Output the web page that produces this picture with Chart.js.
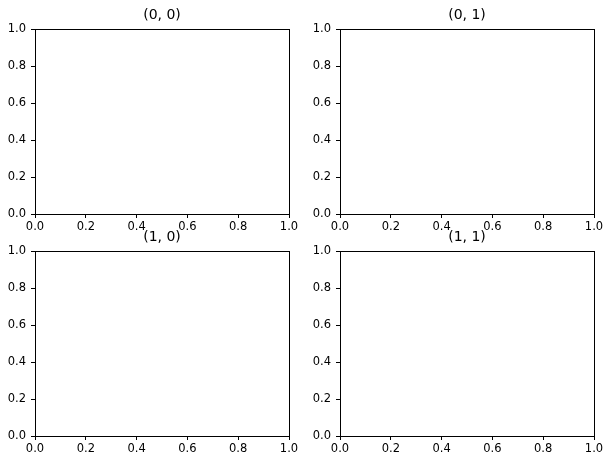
<!DOCTYPE html>
<html>
<head>
<meta charset="utf-8">
<script src="https://cdn.jsdelivr.net/npm/chart.js@4.4.1/dist/chart.umd.min.js"></script>
<style>
  html, body { margin: 0; padding: 0; background: #fff; }
  #wrap { position: relative; width: 611px; height: 465px; }
  #wrap canvas { position: absolute; left: 0; top: 0; }
</style>
</head>
<body>
<div id="wrap"></div>
<script>
// Subplot titles and shared tick values
const titles = ['(0, 0)', '(0, 1)', '(1, 0)', '(1, 1)'];
const xTicks = [0.0, 0.2, 0.4, 0.6, 0.8, 1.0];
const yTicks = [0.0, 0.2, 0.4, 0.6, 0.8, 1.0];

// Plot areas in page pixels: left, right, top, bottom
const areas = [
    { l: 35, r: 289, t: 29, b: 214 },
    { l: 340, r: 594, t: 29, b: 214 },
    { l: 35, r: 289, t: 251, b: 436 },
    { l: 340, r: 594, t: 251, b: 436 }
];

const W = 611, H = 465;
const Y_AXIS_W = 30;
const X_AXIS_H = 20;
const TITLE_SIZE = 14;
const TICK_SIZE = 11.5;
const TITLE_H = TITLE_SIZE * 1.2 + 5;

Chart.defaults.font.family = 'DejaVu Sans';
Chart.defaults.color = '#000';

// Draws the four spines like matplotlib
const framePlugin = {
    id: 'frame',
    afterDraw(chart) {
        const { ctx, chartArea: a } = chart;
        ctx.save();
        ctx.strokeStyle = '#000';
        ctx.lineWidth = 1;
        ctx.strokeRect(Math.round(a.left) + 0.5, Math.round(a.top) + 0.5,
            Math.round(a.right - a.left), Math.round(a.bottom - a.top));
        ctx.restore();
    }
};

function axis(values, isX) {
    return {
        type: 'linear',
        min: 0,
        max: 1,
        afterBuildTicks: (scale) => {
            scale.ticks = values.map(v => ({ value: v }));
        },
        afterFit: (scale) => {
            if (isX) scale.height = X_AXIS_H;
            else scale.width = Y_AXIS_W;
        },
        ticks: {
            font: { size: TICK_SIZE },
            padding: isX ? 2 : 5,
            maxRotation: 0,
            autoSkip: false,
            callback: (v) => Number(v).toFixed(1)
        },
        grid: {
            display: true,
            drawOnChartArea: false,
            drawTicks: true,
            tickLength: 4,
            tickColor: '#000'
        },
        border: { display: true, color: '#000', width: 1 }
    };
}

const wrap = document.getElementById('wrap');

areas.forEach((a, i) => {
    const canvas = document.createElement('canvas');
    canvas.width = W;
    canvas.height = H;
    canvas.style.width = W + 'px';
    canvas.style.height = H + 'px';
    wrap.appendChild(canvas);

    new Chart(canvas, {
        type: 'scatter',
        data: { datasets: [{ data: [] }] },
        plugins: [framePlugin],
        options: {
            responsive: false,
            animation: false,
            devicePixelRatio: 1,
            layout: {
                padding: {
                    left: a.l - Y_AXIS_W,
                    right: W - a.r,
                    top: a.t - TITLE_H,
                    bottom: H - a.b - X_AXIS_H
                }
            },
            plugins: {
                legend: { display: false },
                tooltip: { enabled: false },
                title: {
                    display: true,
                    text: titles[i],
                    fullSize: false,
                    color: '#000',
                    font: { size: TITLE_SIZE, weight: 'normal' },
                    padding: { top: 0, bottom: 5 }
                }
            },
            scales: {
                x: axis(xTicks, true),
                y: axis(yTicks, false)
            }
        }
    });
});
</script>
</body>
</html>
